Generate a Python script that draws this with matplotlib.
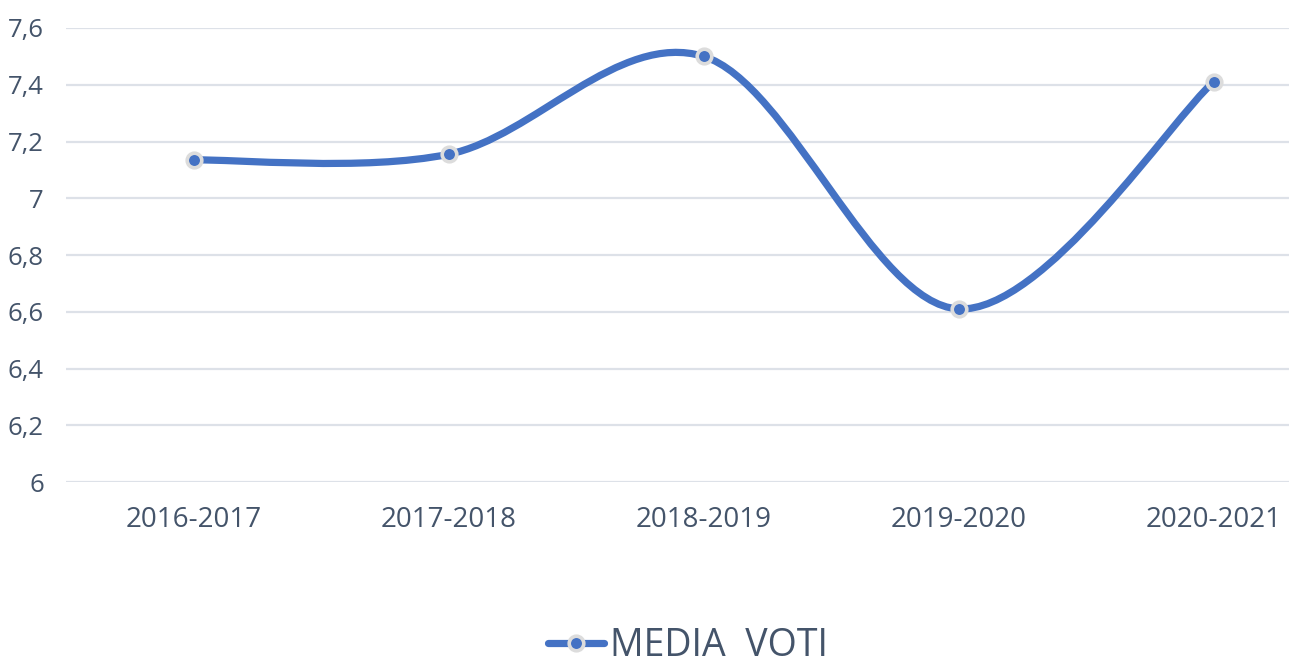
import matplotlib
matplotlib.use('Agg')
import matplotlib.pyplot as plt
from matplotlib.path import Path
from matplotlib.patches import PathPatch
from matplotlib.lines import Line2D
from matplotlib.ticker import FuncFormatter

# data
anni = ['2016-2017', '2017-2018', '2018-2019', '2019-2020', '2020-2021']
media_voti = [7.135, 7.155, 7.50, 6.61, 7.41]
y_ticks = [6.0, 6.2, 6.4, 6.6, 6.8, 7.0, 7.2, 7.4, 7.6]

blu = '#4472C4'
testo = '#44546A'

plt.rcParams['font.family'] = ['Open Sans', 'DejaVu Sans']

fig = plt.figure(figsize=(12.89, 6.66), dpi=100)
# plot area runs a bit past the right edge, like the original
ax = fig.add_axes([66 / 1289, 1 - 482 / 666, 1275 / 1289, 454 / 666])

x = list(range(len(anni)))

# smooth line, excel style bezier (control points from neighbouring points)
verts = [(x[0], media_voti[0])]
codes = [Path.MOVETO]
n = len(x)
for i in range(n - 1):
    p0 = (x[i - 1], media_voti[i - 1]) if i > 0 else (x[i], media_voti[i])
    p1 = (x[i], media_voti[i])
    p2 = (x[i + 1], media_voti[i + 1])
    p3 = (x[i + 2], media_voti[i + 2]) if i + 2 < n else p2
    c1 = (p1[0] + (p2[0] - p0[0]) / 6, p1[1] + (p2[1] - p0[1]) / 6)
    c2 = (p2[0] - (p3[0] - p1[0]) / 6, p2[1] - (p3[1] - p1[1]) / 6)
    verts += [c1, c2, p2]
    codes += [Path.CURVE4] * 3
ax.add_patch(PathPatch(Path(verts, codes), fill=False, edgecolor=blu,
                       lw=5.2, capstyle='round', zorder=3))
ax.plot(x, media_voti, ls='none', marker='o', ms=10.5, mfc=blu,
        mec='#DCDCDC', mew=2.6, zorder=4)

ax.set_xlim(-0.5, 4.5)
ax.set_ylim(6, 7.6)
ax.set_yticks(y_ticks)
ax.yaxis.set_major_formatter(FuncFormatter(
    lambda v, p: ('%g' % round(v, 1)).replace('.', ',')))
ax.set_xticks(x)
ax.set_xticklabels(anni)
ax.grid(axis='y', color='#DDE1E8', lw=1.6)
ax.set_axisbelow(True)
for s in ax.spines.values():
    s.set_visible(False)
ax.tick_params(axis='both', length=0, colors=testo)
ax.tick_params(axis='y', pad=16, labelsize=18.5)
ax.tick_params(axis='x', pad=17, labelsize=20)

handle = Line2D([], [], color=blu, lw=5.2, marker='o', ms=10.5, mfc=blu,
                mec='#DCDCDC', mew=2.6, solid_capstyle='round')
leg = fig.legend([handle], ['MEDIA  VOTI'], loc='center',
                 bbox_to_anchor=(688 / 1289, 1 - 646 / 666), frameon=False,
                 fontsize=27, handlelength=1.5, handletextpad=0.15,
                 borderpad=0.1)
for t in leg.get_texts():
    t.set_color(testo)

fig.savefig('out.png', dpi=100)
